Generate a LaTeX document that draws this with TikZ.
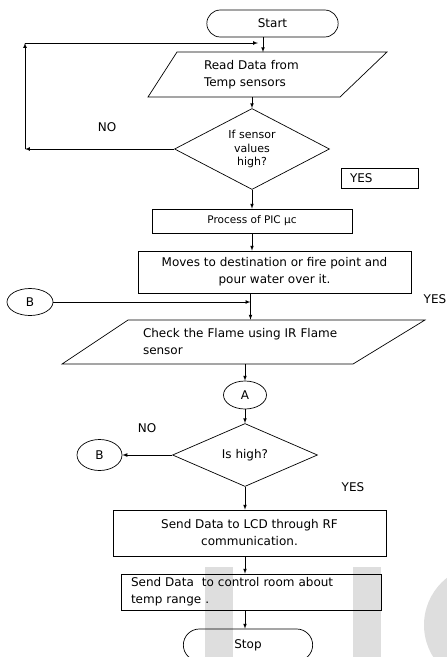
\documentclass[tikz,border=0pt]{standalone}
\usepackage{fontspec}
\setmainfont{DejaVu Sans}
\usetikzlibrary{shapes.geometric,shapes.misc}
\tikzstyle{term} = [draw, rounded rectangle, minimum width=138pt, minimum height=27pt]
\tikzstyle{box} = [draw, rectangle, align=center]
\tikzstyle{io} = [align=left, inner sep=0pt, minimum height=44pt]
\tikzstyle{decide} = [draw, diamond, aspect=2, inner sep=0pt, align=center]
\tikzstyle{conn} = [draw, ellipse, inner sep=0pt]
\tikzstyle{bgbar} = [fill=black!13]

\begin{document}
\begin{tikzpicture}[x=1pt, y=-1pt, >=latex, line width=0.7pt,
    font={\fontsize{12}{17}\selectfont}]
  \useasboundingbox (0,0) rectangle (447,657);
  \clip (0,0) rectangle (447,657);
  % light marks behind the lower part
  \fill[bgbar] (205,567) rectangle (233,660);
  \fill[bgbar] (353,567) rectangle (381,660);
  \fill[bgbar] (484,625) circle (60);

  \node[term](start) at (272.5,23.5){Start};
  \node[io,text width=118pt](read) at (263,74.5){Read Data from\\Temp sensors};
  \draw (177,52) -- (387,52) -- (340,97) -- (148,97) -- cycle;
  \node[decide,minimum width=155pt,minimum height=81pt,font={\fontsize{11}{13.5}\selectfont}](chk) at (252,149){If sensor\\values\\high?};
  \node(no1) at (107,127){NO};
  \node[draw,text width=59pt,inner xsep=9pt,minimum height=20pt,align=left](yes1) at (379.5,178){YES};
  \node[box,minimum width=200pt,minimum height=24pt,font={\fontsize{10.5}{13}\selectfont}](pic) at (252,221){Process of PIC µc};
  \node[box,minimum width=273pt,minimum height=42pt](move) at (274.5,272){Moves to destination or fire point and\\pour water over it.};
  \node[conn,minimum width=46pt,minimum height=27pt](b1) at (30,302){B};
  \node[inner sep=1pt](yes2) at (435,299){YES};
  \node[io,text width=215pt](flame) at (250.5,342){Check the Flame using IR Flame\\sensor};
  \draw (128,320) -- (425,320) -- (353,364) -- (62,364) -- cycle;
  \node[conn,minimum width=43pt,minimum height=28pt](a1) at (245,395){A};
  \node[decide,minimum width=145pt,minimum height=63pt](high) at (245,455){Is high?};
  \node(no2) at (147,428){NO};
  \node[conn,minimum width=45pt,minimum height=31pt](b2) at (99.5,455){B};
  \node(yes3) at (353,487){YES};
  \node[box,minimum width=273pt,minimum height=46pt](lcd) at (249.5,533){Send Data to LCD through RF\\communication.};
  \node[box,text width=240pt,inner xsep=10pt,inner ysep=0pt,minimum height=36pt,align=left](room) at (251,592){Send Data\ \ to control room about\\temp range .};
  \node[term,minimum width=136pt,minimum height=32pt](stop) at (248,645){Stop};

  % loop back when the values are not high
  \coordinate (back1) at (25,149);
  \coordinate (back2) at (25,43);
  \coordinate (back3) at (258,43);
  \draw[->](chk.west)--(back1);
  \draw[->](back1)--(back2);
  \draw[->](back2)--(back3);

  \draw[->](start.south -| read.north)--(read.north);
  \draw[->](read.south -| chk.north)--(chk.north);
  \draw[->](chk.south)--(chk.south |- pic.north);
  \draw[->](pic.south)--(pic.south |- move.north);
  \draw[->](move.south -| flame.north)--(flame.north);
  \draw[->](b1.east)--(b1.east -| flame.north);
  \draw[->](flame.south -| a1.north)--(a1.north);
  \draw[->](a1.south)--(high.north);
  \draw[->](high.west)--(b2.east);
  \draw[->](high.south)--(high.south |- lcd.north);
  \draw[->](lcd.south -| a1)--(room.north -| a1);
  \draw[->](room.south -| a1)--(stop.north -| a1);
\end{tikzpicture}
\end{document}
